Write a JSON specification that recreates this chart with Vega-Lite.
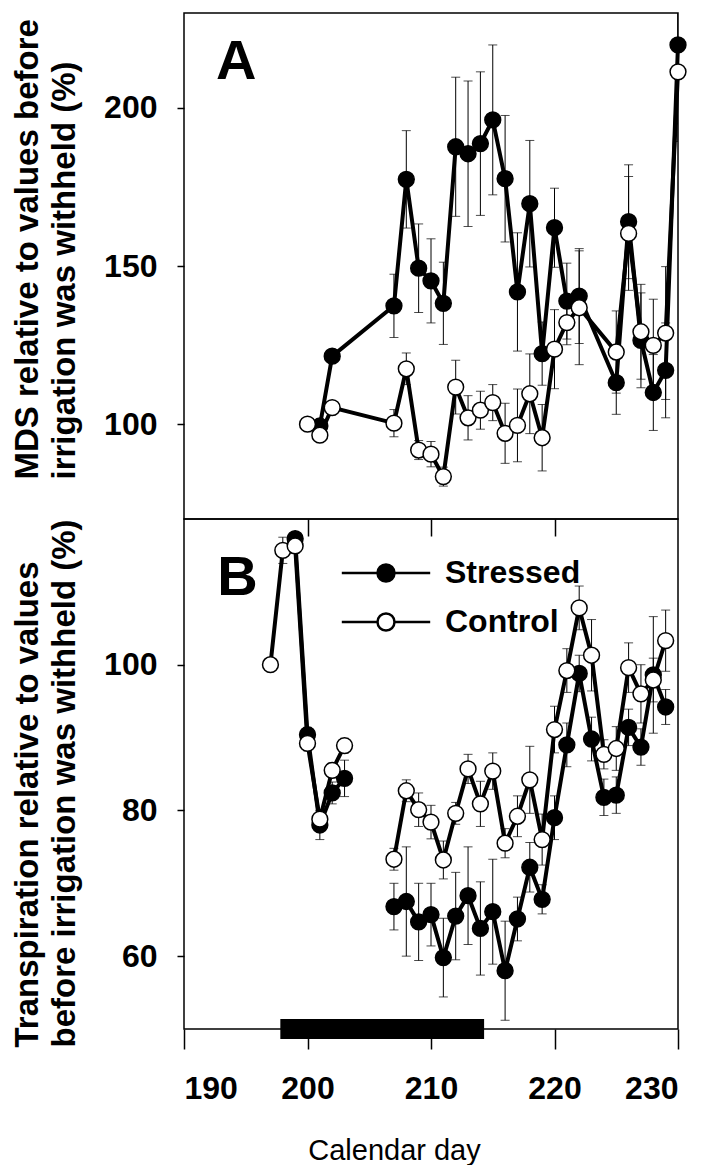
{
  "$schema": "https://vega.github.io/schema/vega-lite/v6.json",
  "background": "white",
  "padding": {"left": 10, "top": 12, "right": 5, "bottom": 0},
  "spacing": 0,
  "bounds": "flush",
  "config": {
    "font": "Liberation Sans",
    "view": {"stroke": "black", "strokeWidth": 1.5},
    "axis": {"grid": false, "domainColor": "black", "tickColor": "black", "labelColor": "black", "titleColor": "black", "domainWidth": 1.5, "tickWidth": 1.5}
  },
  "resolve": {"scale": {"x": "independent", "y": "independent", "fill": "independent"}, "legend": {"fill": "independent"}},
  "datasets": {
    "mds": [
      {"series": "Stressed", "day": 201, "value": 99.4, "se": 1.5},
      {"series": "Stressed", "day": 202, "value": 121.5, "se": 1.5},
      {"series": "Stressed", "day": 207, "value": 137.4, "se": 10},
      {"series": "Stressed", "day": 208, "value": 177.4, "se": 15.4},
      {"series": "Stressed", "day": 209, "value": 149.3, "se": 14},
      {"series": "Stressed", "day": 210, "value": 145.3, "se": 13.3},
      {"series": "Stressed", "day": 211, "value": 138.2, "se": 13},
      {"series": "Stressed", "day": 212, "value": 187.7, "se": 22},
      {"series": "Stressed", "day": 213, "value": 185.5, "se": 23},
      {"series": "Stressed", "day": 214, "value": 188.7, "se": 22.7},
      {"series": "Stressed", "day": 215, "value": 196.2, "se": 23.7},
      {"series": "Stressed", "day": 216, "value": 177.6, "se": 20},
      {"series": "Stressed", "day": 217, "value": 141.8, "se": 18.7},
      {"series": "Stressed", "day": 218, "value": 169.7, "se": 20},
      {"series": "Stressed", "day": 219, "value": 122.3, "se": 10},
      {"series": "Stressed", "day": 220, "value": 162.1, "se": 12.5},
      {"series": "Stressed", "day": 221, "value": 138.9, "se": 12},
      {"series": "Stressed", "day": 222, "value": 140.5, "se": 15},
      {"series": "Stressed", "day": 225, "value": 113.1, "se": 10},
      {"series": "Stressed", "day": 226, "value": 164, "se": 18},
      {"series": "Stressed", "day": 227, "value": 126.5, "se": 15},
      {"series": "Stressed", "day": 228, "value": 110, "se": 12},
      {"series": "Stressed", "day": 229, "value": 117, "se": 15},
      {"series": "Stressed", "day": 230, "value": 219.9, "se": 25},
      {"series": "Control", "day": 200, "value": 100, "se": 0.5},
      {"series": "Control", "day": 201, "value": 96.5, "se": 1},
      {"series": "Control", "day": 202, "value": 105.2, "se": 1},
      {"series": "Control", "day": 207, "value": 100.3, "se": 4.3},
      {"series": "Control", "day": 208, "value": 117.5, "se": 5},
      {"series": "Control", "day": 209, "value": 91.8, "se": 3},
      {"series": "Control", "day": 210, "value": 90.5, "se": 4},
      {"series": "Control", "day": 211, "value": 83.4, "se": 3},
      {"series": "Control", "day": 212, "value": 111.7, "se": 8.5},
      {"series": "Control", "day": 213, "value": 102, "se": 7},
      {"series": "Control", "day": 214, "value": 104.4, "se": 6},
      {"series": "Control", "day": 215, "value": 106.8, "se": 5.7},
      {"series": "Control", "day": 216, "value": 97.1, "se": 9.5},
      {"series": "Control", "day": 217, "value": 99.6, "se": 11.5},
      {"series": "Control", "day": 218, "value": 109.6, "se": 12.6},
      {"series": "Control", "day": 219, "value": 95.7, "se": 10.5},
      {"series": "Control", "day": 220, "value": 123.7, "se": 12.5},
      {"series": "Control", "day": 221, "value": 132.1, "se": 7},
      {"series": "Control", "day": 222, "value": 136.8, "se": 18},
      {"series": "Control", "day": 225, "value": 122.8, "se": 13},
      {"series": "Control", "day": 226, "value": 160.3, "se": 18},
      {"series": "Control", "day": 227, "value": 129.2, "se": 15},
      {"series": "Control", "day": 228, "value": 124.9, "se": 14.6},
      {"series": "Control", "day": 229, "value": 128.8, "se": 21},
      {"series": "Control", "day": 230, "value": 211.4, "se": 22}
    ],
    "trans": [
      {"series": "Stressed", "run": 1, "day": 199, "value": 117.3, "se": 0.5},
      {"series": "Stressed", "run": 1, "day": 200, "value": 90.4, "se": 1},
      {"series": "Stressed", "run": 1, "day": 201, "value": 78, "se": 2},
      {"series": "Stressed", "run": 1, "day": 202, "value": 82.4, "se": 1.5},
      {"series": "Stressed", "run": 1, "day": 203, "value": 84.4, "se": 2.5},
      {"series": "Stressed", "run": 2, "day": 207, "value": 66.8, "se": 3.2},
      {"series": "Stressed", "run": 2, "day": 208, "value": 67.5, "se": 7.5},
      {"series": "Stressed", "run": 2, "day": 209, "value": 64.7, "se": 5.3},
      {"series": "Stressed", "run": 2, "day": 210, "value": 65.7, "se": 4.3},
      {"series": "Stressed", "run": 2, "day": 211, "value": 59.8, "se": 5.4},
      {"series": "Stressed", "run": 2, "day": 212, "value": 65.5, "se": 6},
      {"series": "Stressed", "run": 2, "day": 213, "value": 68.3, "se": 6.7},
      {"series": "Stressed", "run": 2, "day": 214, "value": 63.8, "se": 6.4},
      {"series": "Stressed", "run": 2, "day": 215, "value": 66.1, "se": 7.2},
      {"series": "Stressed", "run": 2, "day": 216, "value": 58, "se": 6.8},
      {"series": "Stressed", "run": 2, "day": 217, "value": 65.1, "se": 3},
      {"series": "Stressed", "run": 2, "day": 218, "value": 72.2, "se": 3.4},
      {"series": "Stressed", "run": 2, "day": 219, "value": 67.8, "se": 2},
      {"series": "Stressed", "run": 2, "day": 220, "value": 79, "se": 3},
      {"series": "Stressed", "run": 2, "day": 221, "value": 89, "se": 3},
      {"series": "Stressed", "run": 2, "day": 222, "value": 98.8, "se": 2.5},
      {"series": "Stressed", "run": 2, "day": 223, "value": 89.8, "se": 3},
      {"series": "Stressed", "run": 2, "day": 224, "value": 81.8, "se": 2.5},
      {"series": "Stressed", "run": 2, "day": 225, "value": 82.1, "se": 2.5},
      {"series": "Stressed", "run": 2, "day": 226, "value": 91.4, "se": 2.5},
      {"series": "Stressed", "run": 2, "day": 227, "value": 88.7, "se": 2.5},
      {"series": "Stressed", "run": 2, "day": 228, "value": 98.6, "se": 8},
      {"series": "Stressed", "run": 2, "day": 229, "value": 94.2, "se": 2.4},
      {"series": "Control", "run": 1, "day": 197, "value": 100, "se": 0.5},
      {"series": "Control", "run": 1, "day": 198, "value": 115.7, "se": 1.8},
      {"series": "Control", "run": 1, "day": 199, "value": 116.3, "se": 1},
      {"series": "Control", "run": 1, "day": 200, "value": 89.2, "se": 1},
      {"series": "Control", "run": 1, "day": 201, "value": 78.8, "se": 1},
      {"series": "Control", "run": 1, "day": 202, "value": 85.5, "se": 1},
      {"series": "Control", "run": 1, "day": 203, "value": 88.9, "se": 1},
      {"series": "Control", "run": 2, "day": 207, "value": 73.3, "se": 1.5},
      {"series": "Control", "run": 2, "day": 208, "value": 82.7, "se": 1.5},
      {"series": "Control", "run": 2, "day": 209, "value": 80.1, "se": 2.3},
      {"series": "Control", "run": 2, "day": 210, "value": 78.4, "se": 2.3},
      {"series": "Control", "run": 2, "day": 211, "value": 73.2, "se": 2.6},
      {"series": "Control", "run": 2, "day": 212, "value": 79.6, "se": 1.5},
      {"series": "Control", "run": 2, "day": 213, "value": 85.7, "se": 2},
      {"series": "Control", "run": 2, "day": 214, "value": 80.9, "se": 3.1},
      {"series": "Control", "run": 2, "day": 215, "value": 85.4, "se": 2.5},
      {"series": "Control", "run": 2, "day": 216, "value": 75.5, "se": 2},
      {"series": "Control", "run": 2, "day": 217, "value": 79.2, "se": 2.8},
      {"series": "Control", "run": 2, "day": 218, "value": 84.2, "se": 4.6},
      {"series": "Control", "run": 2, "day": 219, "value": 76, "se": 3.5},
      {"series": "Control", "run": 2, "day": 220, "value": 91.1, "se": 3.2},
      {"series": "Control", "run": 2, "day": 221, "value": 99.2, "se": 3},
      {"series": "Control", "run": 2, "day": 222, "value": 107.8, "se": 3},
      {"series": "Control", "run": 2, "day": 223, "value": 101.3, "se": 4.9},
      {"series": "Control", "run": 2, "day": 224, "value": 87.7, "se": 2},
      {"series": "Control", "run": 2, "day": 225, "value": 88.5, "se": 3},
      {"series": "Control", "run": 2, "day": 226, "value": 99.6, "se": 3.4},
      {"series": "Control", "run": 2, "day": 227, "value": 96, "se": 4},
      {"series": "Control", "run": 2, "day": 228, "value": 97.9, "se": 3},
      {"series": "Control", "run": 2, "day": 229, "value": 103.3, "se": 4.2}
    ],
    "withheld": [{"start": 197.8, "end": 214.3}],
    "panelA": [{"label": "A"}],
    "panelB": [{"label": "B"}]
  },
  "vconcat": [
    {
      "width": 494,
      "height": 506,
      "layer": [
        {
          "data": {"name": "mds"},
          "encoding": {
            "x": {"field": "day", "type": "quantitative", "scale": {"domain": [190, 230], "nice": false, "zero": false},
              "axis": {"orient": "bottom", "values": [200, 210, 220], "labels": false, "title": null, "tickSize": 17, "domain": false}},
            "y": {"field": "value", "type": "quantitative", "scale": {"domain": [70, 230], "nice": false, "zero": false},
              "axis": {"values": [100, 150, 200], "tickSize": 7, "labelPadding": 20, "labelFontSize": 32, "labelFontWeight": "bold", "domain": false,
                "title": ["MDS relative to values before", "irrigation was withheld (%)"], "titleFontSize": 33, "titleFontWeight": "bold",
                "titleAngle": -90, "titleAlign": "left", "titleBaseline": "alphabetic", "titleX": -147, "titleY": 466, "titleLineHeight": 37}}
          },
          "layer": [
            {
              "mark": {"type": "errorbar", "ticks": {"size": 9, "thickness": 1}, "thickness": 1, "color": "black", "clip": true},
              "encoding": {"yError": {"field": "se"}}
            },
            {
              "mark": {"type": "line", "color": "black", "strokeWidth": 4},
              "encoding": {"detail": {"field": "series"}}
            },
            {
              "mark": {"type": "point", "shape": "circle", "size": 250, "stroke": "black", "strokeWidth": 1.5, "opacity": 1},
              "encoding": {
                "fill": {"field": "series", "type": "nominal", "scale": {"domain": ["Stressed", "Control"], "range": ["black", "white"]}, "legend": null}
              }
            }
          ]
        },
        {
          "data": {"name": "panelA"},
          "mark": {"type": "text", "fontSize": 56, "fontWeight": "bold", "align": "left", "baseline": "alphabetic", "color": "black"},
          "encoding": {"x": {"datum": 192.6}, "y": {"datum": 209}, "text": {"field": "label"}}
        }
      ]
    },
    {
      "width": 494,
      "height": 510,
      "layer": [
        {
          "data": {"name": "trans"},
          "encoding": {
            "x": {"field": "day", "type": "quantitative", "scale": {"domain": [190, 230], "nice": false, "zero": false},
              "axis": {"values": [190, 200, 210, 220, 230], "tickSize": 20, "labelPadding": 24, "labelFontSize": 32, "labelFontWeight": "bold", "domain": false,
                "title": "Calendar day", "titleFontSize": 29, "titleFontWeight": "normal", "titleX": 210, "titleY": 130, "titleBaseline": "alphabetic"}},
            "y": {"field": "value", "type": "quantitative", "scale": {"domain": [50, 120], "nice": false, "zero": false},
              "axis": {"values": [60, 80, 100], "tickSize": 7, "labelPadding": 20, "labelFontSize": 32, "labelFontWeight": "bold", "domain": false,
                "title": ["Transpiration relative to values", "before irrigation  was withheld (%)"], "titleFontSize": 33, "titleFontWeight": "bold",
                "titleAngle": -90, "titleAlign": "left", "titleBaseline": "alphabetic", "titleX": -147, "titleY": 528, "titleLineHeight": 37}}
          },
          "layer": [
            {
              "mark": {"type": "errorbar", "ticks": {"size": 9, "thickness": 1}, "thickness": 1, "color": "black"},
              "encoding": {"yError": {"field": "se"}}
            },
            {
              "mark": {"type": "line", "color": "black", "strokeWidth": 4},
              "encoding": {"detail": [{"field": "series"}, {"field": "run"}]}
            },
            {
              "mark": {"type": "point", "shape": "circle", "size": 250, "stroke": "black", "strokeWidth": 1.5, "opacity": 1},
              "encoding": {
                "fill": {"field": "series", "type": "nominal", "scale": {"domain": ["Stressed", "Control"], "range": ["black", "white"]},
                  "legend": {"orient": "none", "legendX": 186, "legendY": 38, "title": null, "direction": "vertical",
                    "symbolType": "M-5.2,0H-1M1,0H5.2M1,0A1,1,0,1,1,-1,0A1,1,0,1,1,1,0Z", "symbolSize": 289,
                    "symbolStrokeColor": "black", "symbolStrokeWidth": 2.5, "symbolOpacity": 1,
                    "labelFontSize": 32, "labelFontWeight": "bold", "labelColor": "black", "labelOffset": 43, "rowPadding": 17}}
              }
            }
          ]
        },
        {
          "data": {"name": "withheld"},
          "mark": {"type": "rule", "color": "black", "strokeWidth": 20},
          "encoding": {
            "x": {"field": "start", "type": "quantitative"},
            "x2": {"field": "end"},
            "y": {"datum": 50}
          }
        },
        {
          "data": {"name": "panelB"},
          "mark": {"type": "text", "fontSize": 56, "fontWeight": "bold", "align": "left", "baseline": "alphabetic", "color": "black"},
          "encoding": {"x": {"datum": 192.7}, "y": {"datum": 109.6}, "text": {"field": "label"}}
        }
      ]
    }
  ]
}
